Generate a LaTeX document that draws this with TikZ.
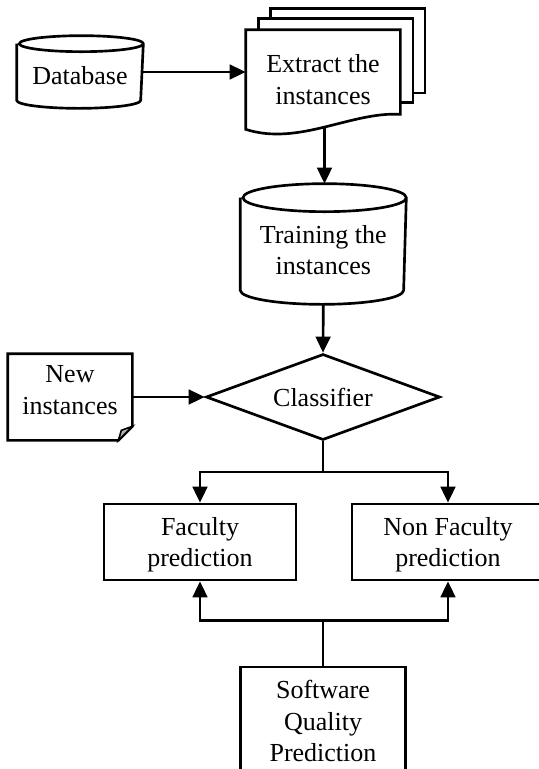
\documentclass[tikz,border=0pt]{standalone}
\usepackage{fontspec}
\setmainfont{Liberation Serif}
\usetikzlibrary{arrows.meta,shapes.geometric}

\begin{document}
\begin{tikzpicture}[
            x=0.75pt, y=-0.75pt,
            font=\fontsize{19.5}{23.7}\selectfont,
            line width=2pt,
            paper/.style={rectangle, draw=none, align=center, inner sep=0pt},
            box/.style={rectangle, draw, align=center, inner sep=0pt, minimum width=144pt, minimum height=57pt},
            decision/.style={diamond, draw, align=center, inner sep=0pt, aspect=2.72, minimum width=175.5pt, minimum height=64.5pt},
            arrow/.style={-{Triangle[length=12pt, width=11pt]}}
        ]
            \useasboundingbox (0,0) rectangle (539,769);
            \clip (0,0) rectangle (539,769);

            % --- DATA ---
            \node[paper, minimum width=93pt, minimum height=52.5pt, text height=19.5pt] (database) at (80,72) {Database};
            \draw ([shift={(0,8)}]database.north west) -- ([shift={(0,-8)}]database.south west)
                arc[start angle=180, end angle=360, x radius=46.5pt, y radius=6pt]
                -- ([shift={(0,8)}]database.north east) arc[start angle=0, end angle=360, x radius=46.5pt, y radius=6pt];

            \node[paper, minimum width=114pt, minimum height=72.75pt] (extract) at (323,79.5) {};
            \draw[fill=white] ([shift={(24.5,-21.5)}]extract.north west) rectangle ([shift={(24.5,-36.5)}]extract.south east);
            \draw[fill=white] ([shift={(12.5,-11)}]extract.north west) rectangle ([shift={(12.5,-27)}]extract.south east);
            \draw[fill=white] (extract.south west) -- (extract.north west) -- (extract.north east)
                -- ([shift={(0,-15)}]extract.south east) .. controls +(-49,-3) and +(53,17) .. (extract.south west) coordinate[pos=0.5] (wave) -- cycle;
            \node[paper] at (extract.center) {Extract the\\instances};

            % --- TRAINING ---
            \node[paper, minimum width=122.5pt, minimum height=88.5pt, text height=46.2pt] (training) at (323.3,244) {Training the\\instances};
            \draw ([shift={(0,14)}]training.north west) -- ([shift={(0,-14)}]training.south west)
                arc[start angle=180, end angle=360, x radius=61.25pt, y radius=10.5pt]
                -- ([shift={(0,14)}]training.north east) arc[start angle=0, end angle=360, x radius=61.25pt, y radius=10.5pt];

            \node[decision] (classifier) at (323,397) {Classifier};

            % --- NEW INSTANCES ---
            \node[paper, minimum width=91.5pt, minimum height=63pt, text depth=10.5pt] (newinst) at (70,397) {New\\instances};
            \draw (newinst.north west) -- (newinst.north east) -- ([shift={(0,-14)}]newinst.south east)
                -- ([shift={(-14,0)}]newinst.south east) -- (newinst.south west) -- cycle;
            \draw[fill=gray!60, line width=1.2pt] ([shift={(0,-14)}]newinst.south east) -- ([shift={(-14,0)}]newinst.south east)
                -- ([shift={(-11,-10)}]newinst.south east) -- cycle;

            % --- RESULTS ---
            \node[box, text height=41.5pt] (faculty) at (200,542) {Faculty\\prediction};
            \node[box, text height=41.5pt] (nonfaculty) at (448,542) {Non Faculty\\prediction};
            \node[box, minimum width=123.75pt, minimum height=81pt] (quality) at (323,721) {Software\\Quality\\Prediction};

            % --- CONNECTIONS ---
            \draw[arrow] (database.east) -- (database.east -| extract.west);
            \draw[arrow] (wave) -- (wave |- training.north);
            \draw[arrow] (training.south) -- (classifier.north);
            \draw[arrow] (newinst.east) -- (classifier.west);

            \draw[arrow] (classifier.south) -- ++(0,30.7) -| (faculty.north);
            \draw[arrow] (classifier.south) -- ++(0,30.7) -| (nonfaculty.north);

            \draw[arrow] (quality.north) -- ++(0,-45) -| (faculty.south);
            \draw[arrow] (quality.north) -- ++(0,-45) -| (nonfaculty.south);
        \end{tikzpicture}
\end{document}
